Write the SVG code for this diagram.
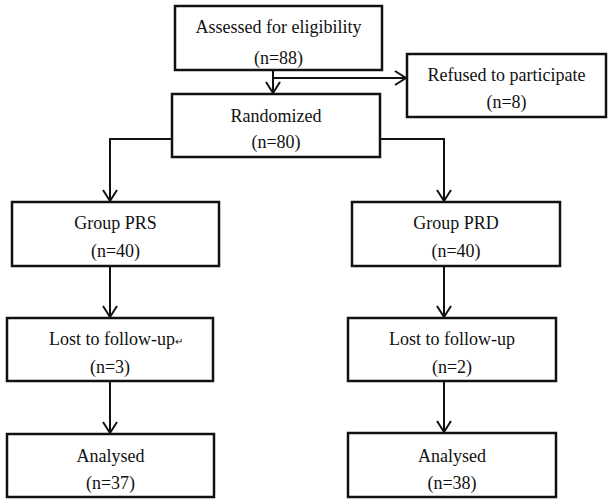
<svg xmlns="http://www.w3.org/2000/svg" width="608" height="499" viewBox="0 0 608 499">
<defs>
<marker id="arr" markerUnits="userSpaceOnUse" markerWidth="14" markerHeight="16" viewBox="0 0 14 16" refX="12" refY="8" orient="auto">
<path d="M1,1 L12,8 L1,15" fill="none" stroke="#111" stroke-width="2"/>
</marker>
<style>
.box{fill:#fff;stroke:#111;stroke-width:2.5}
.t{font-family:"Liberation Serif","Times New Roman",serif;font-size:18px;fill:#111;text-anchor:middle}
.c{fill:none;stroke:#111;stroke-width:2}
</style>
</defs>
<rect width="608" height="499" fill="#fff"/>
<g id="connectors">
<path class="c" d="M273,70 V93" marker-end="url(#arr)"/>
<path class="c" d="M273,78 H406" marker-end="url(#arr)"/>
<path class="c" d="M172,139 H110 V201" marker-end="url(#arr)"/>
<path class="c" d="M380,139 H444 V201" marker-end="url(#arr)"/>
<path class="c" d="M110,266 V317" marker-end="url(#arr)"/>
<path class="c" d="M444,266 V317" marker-end="url(#arr)"/>
<path class="c" d="M110,381 V433" marker-end="url(#arr)"/>
<path class="c" d="M444,381 V432" marker-end="url(#arr)"/>
</g>
<g id="assessed">
<rect class="box" x="175" y="6" width="207" height="64"/>
<text class="t" x="278.5" y="33">Assessed for eligibility</text>
<text class="t" x="278.5" y="64">(n=88)</text>
</g>
<g id="refused">
<rect class="box" x="407" y="54" width="199" height="63"/>
<text class="t" x="506.5" y="81">Refused to participate</text>
<text class="t" x="506.5" y="108">(n=8)</text>
</g>
<g id="randomized">
<rect class="box" x="172" y="94" width="208" height="63"/>
<text class="t" x="276" y="122">Randomized</text>
<text class="t" x="276" y="148">(n=80)</text>
</g>
<g id="group-prs">
<rect class="box" x="12" y="202" width="207" height="64"/>
<text class="t" x="115.5" y="229">Group PRS</text>
<text class="t" x="115.5" y="257">(n=40)</text>
</g>
<g id="group-prd">
<rect class="box" x="352" y="202" width="208" height="64"/>
<text class="t" x="456" y="229">Group PRD</text>
<text class="t" x="456" y="257">(n=40)</text>
</g>
<g id="lost-prs">
<rect class="box" x="7" y="318" width="206" height="63"/>
<text class="t" x="116" y="345">Lost to follow-up<tspan font-size="10">↵</tspan></text>
<text class="t" x="110" y="373">(n=3)</text>
</g>
<g id="lost-prd">
<rect class="box" x="348" y="318" width="208" height="63"/>
<text class="t" x="452" y="345">Lost to follow-up</text>
<text class="t" x="452" y="373">(n=2)</text>
</g>
<g id="analysed-prs">
<rect class="box" x="7" y="434" width="207" height="63"/>
<text class="t" x="110.5" y="462">Analysed</text>
<text class="t" x="110.5" y="489">(n=37)</text>
</g>
<g id="analysed-prd">
<rect class="box" x="348" y="433" width="208" height="64"/>
<text class="t" x="452" y="462">Analysed</text>
<text class="t" x="452" y="489">(n=38)</text>
</g>
</svg>
